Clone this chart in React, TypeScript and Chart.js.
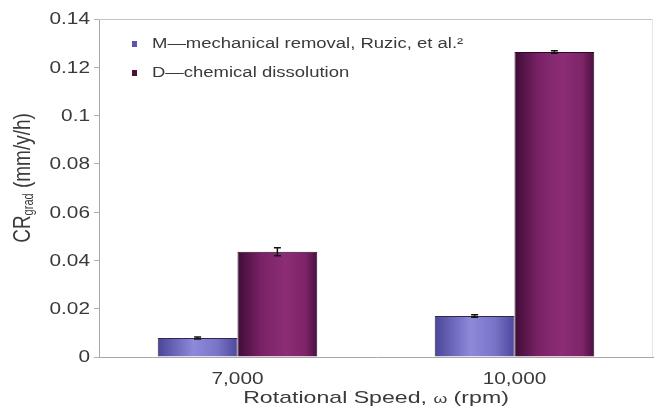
import React, { useEffect, useRef } from "react";
import { Chart, registerables } from "chart.js";

Chart.register(...registerables);

const categories = ["7,000", "10,000"];
const seriesNames = ["M\u2014mechanical removal, Ruzic, et al.\u00B2", "D\u2014chemical dissolution"];
const mechanical = [0.0079, 0.017];
const dissolution = [0.0436, 0.1263];
const mechanicalErr = [0.0004, 0.0005];
const dissolutionErr = [0.0017, 0.0005];
const yTicks = [0, 0.02, 0.04, 0.06, 0.08, 0.1, 0.12, 0.14];
const yTickLabels = ["0", "0.02", "0.04", "0.06", "0.08", "0.1", "0.12", "0.14"];
const xTitleParts = ["Rotational Speed, ", "\u03C9", " (rpm)"];
const yTitleParts = ["CR", "grad", " (mm/y/h)"];

const FONT = "'Liberation Sans', Arial, sans-serif";
const TEXT = "#3a3a3a";
const SX = 1.3;

const gradStops: Array<Array<[number, string]>> = [
  [
    [0, "#4a4598"],
    [0.45, "#8f89da"],
    [0.75, "#7a74c8"],
    [1, "#4c479e"],
  ],
  [
    [0, "#3e0c36"],
    [0.3, "#7a2266"],
    [0.6, "#8c2d76"],
    [0.85, "#7e2468"],
    [1, "#4a1040"],
  ],
];

function stretchText(ctx: any, text: string, x: number, y: number, font: string, align: string, sx: number) {
  ctx.save();
  ctx.font = font;
  ctx.translate(x, y);
  ctx.scale(sx, 1);
  ctx.textAlign = align;
  ctx.fillText(text, 0, 0);
  ctx.restore();
}

const gradientPlugin = {
  id: "barGradient",
  beforeDatasetsDraw(chart: any) {
    const ctx = chart.ctx;
    chart.data.datasets.forEach((_: any, di: number) => {
      const meta = chart.getDatasetMeta(di);
      meta.data.forEach((el: any) => {
        const left = el.x - el.width / 2;
        const right = el.x + el.width / 2;
        const g = ctx.createLinearGradient(left, 0, right, 0);
        gradStops[di].forEach(([o, c]) => g.addColorStop(o, c));
        el.options = Object.assign({}, el.options, { backgroundColor: g });
      });
    });
  },
};

const errorPlugin = {
  id: "errorBars",
  afterDatasetsDraw(chart: any) {
    const ctx = chart.ctx;
    const y = chart.scales.y;
    const errs = [mechanicalErr, dissolutionErr];
    chart.data.datasets.forEach((ds: any, di: number) => {
      const meta = chart.getDatasetMeta(di);
      meta.data.forEach((el: any, i: number) => {
        const v = ds.data[i];
        const e = errs[di][i];
        const yt = y.getPixelForValue(v + e);
        const yb = y.getPixelForValue(v - e);
        ctx.save();
        ctx.strokeStyle = "#141414";
        ctx.lineWidth = 1.5;
        ctx.beginPath();
        ctx.moveTo(el.x, yt);
        ctx.lineTo(el.x, yb);
        ctx.moveTo(el.x - 3.5, yt);
        ctx.lineTo(el.x + 3.5, yt);
        ctx.moveTo(el.x - 3.5, yb);
        ctx.lineTo(el.x + 3.5, yb);
        ctx.stroke();
        ctx.restore();
      });
    });
  },
};

const decorPlugin = {
  id: "decor",
  beforeDatasetsDraw(chart: any) {
    const ctx = chart.ctx;
    const a = chart.chartArea;
    ctx.save();
    ctx.lineWidth = 1;
    ctx.strokeStyle = "#c4c4c4";
    ctx.beginPath();
    ctx.moveTo(a.left, a.top + 0.5);
    ctx.lineTo(a.right, a.top + 0.5);
    ctx.stroke();
    ctx.strokeStyle = "#e6e6e6";
    ctx.beginPath();
    ctx.moveTo(a.right - 0.5, a.top);
    ctx.lineTo(a.right - 0.5, a.bottom);
    ctx.stroke();
    ctx.restore();
  },
  afterDraw(chart: any) {
    const ctx = chart.ctx;
    const a = chart.chartArea;
    const xs = chart.scales.x;
    const ys = chart.scales.y;
    ctx.save();
    ctx.fillStyle = TEXT;
    // y tick labels
    ctx.textBaseline = "middle";
    yTicks.forEach((v, i) => {
      stretchText(ctx, yTickLabels[i], a.left - 9, ys.getPixelForValue(v) + 1, `16px ${FONT}`, "right", SX);
    });
    // x tick labels
    ctx.textBaseline = "alphabetic";
    categories.forEach((c, i) => {
      stretchText(ctx, c, xs.getPixelForValue(i), a.bottom + 27, `16px ${FONT}`, "center", SX);
    });
    // legend
    const colors = ["#5a55b0", "#4a1040"];
    const rows = [44, 73];
    ctx.textBaseline = "middle";
    seriesNames.forEach((name, i) => {
      ctx.fillStyle = colors[i];
      ctx.fillRect(a.left + 33, rows[i] - 3, 5, 6);
      ctx.fillStyle = TEXT;
      stretchText(ctx, name, a.left + 53, rows[i], `14px ${FONT}`, "left", 1.32);
    });
    // x title (stretched)
    ctx.fillStyle = TEXT;
    ctx.textBaseline = "alphabetic";
    const fonts = [`17px ${FONT}`, `13px ${FONT}`, `17px ${FONT}`];
    let total = 0;
    const widths = xTitleParts.map((p, i) => {
      ctx.font = fonts[i];
      const w = ctx.measureText(p).width;
      total += w;
      return w;
    });
    ctx.save();
    ctx.translate((a.left + a.right) / 2, 403);
    ctx.scale(1.36, 1);
    let x = -total / 2;
    ctx.textAlign = "left";
    xTitleParts.forEach((p, i) => {
      ctx.font = fonts[i];
      ctx.fillText(p, x, 0);
      x += widths[i];
    });
    ctx.restore();
    // y title (rotated, stretched in thickness)
    ctx.save();
    ctx.translate(23, 178);
    ctx.rotate(-Math.PI / 2);
    ctx.scale(1, 1.25);
    ctx.textAlign = "left";
    ctx.textBaseline = "middle";
    const yf = [`19px ${FONT}`, `11px ${FONT}`, `19px ${FONT}`];
    let yt = 0;
    const yw = yTitleParts.map((p, i) => {
      ctx.font = yf[i];
      const w = ctx.measureText(p).width;
      yt += w;
      return w;
    });
    let px = -yt / 2;
    yTitleParts.forEach((p, i) => {
      ctx.font = yf[i];
      ctx.fillText(p, px, i === 1 ? 5 : 0);
      px += yw[i];
    });
    ctx.restore();
    ctx.restore();
  },
};

export default function App() {
  const ref = useRef<HTMLCanvasElement>(null);
  useEffect(() => {
    if (!ref.current) return;
    const chart = new Chart(ref.current, {
      type: "bar",
      data: {
        labels: categories,
        datasets: [
          {
            label: seriesNames[0],
            data: mechanical,
            backgroundColor: "#6f69c4",
            borderColor: "#2c2850",
            borderWidth: 1,
            borderSkipped: "bottom",
            categoryPercentage: 0.576,
            barPercentage: 1,
          },
          {
            label: seriesNames[1],
            data: dissolution,
            backgroundColor: "#7a2266",
            borderColor: "#2e0826",
            borderWidth: 1,
            borderSkipped: "bottom",
            categoryPercentage: 0.576,
            barPercentage: 1,
          },
        ],
      },
      options: {
        responsive: false,
        animation: false,
        layout: { padding: { top: 19, right: 1, left: 0, bottom: 0 } },
        plugins: {
          legend: { display: false },
          tooltip: { enabled: false },
        },
        scales: {
          x: {
            offset: true,
            grid: { display: false, drawTicks: false },
            border: { color: "#a8a8a8", width: 1 },
            ticks: { display: false },
            afterFit: (s: any) => {
              s.height = 55;
            },
          },
          y: {
            min: 0,
            max: 0.14,
            afterBuildTicks: (s: any) => {
              s.ticks = yTicks.map((v) => ({ value: v }));
            },
            grid: {
              drawOnChartArea: false,
              drawTicks: true,
              tickLength: 5,
              color: "#b0b0b0",
            },
            border: { color: "#a8a8a8", width: 1 },
            ticks: {
              display: false,
              callback: (v: any) => {
                const i = yTicks.findIndex((t) => Math.abs(t - Number(v)) < 1e-9);
                return i >= 0 ? yTickLabels[i] : "";
              },
            },
            afterFit: (s: any) => {
              s.width = 99;
            },
          },
        },
      },
      plugins: [decorPlugin, gradientPlugin, errorPlugin],
    });
    return () => chart.destroy();
  }, []);
  return (
    <div style={{ position: "absolute", left: 0, top: 0, width: 654, height: 412, background: "#fff" }}>
      <canvas ref={ref} width={654} height={412} />
    </div>
  );
}
